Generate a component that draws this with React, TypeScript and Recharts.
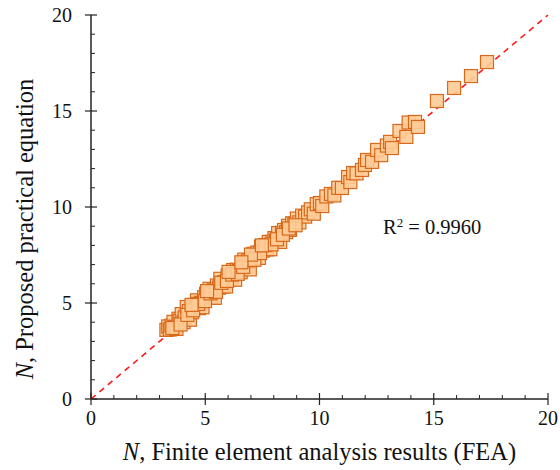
import { ScatterChart, Scatter, XAxis, YAxis } from "recharts";

// FEA results (x) and proposed equation (y)
const FEA = [
  3.3, 3.38, 3.45, 3.52, 3.61, 3.66, 3.74, 3.83, 3.88, 3.97, 4.05, 4.1, 4.19, 4.28, 4.33, 4.42, 4.5,
  4.58, 4.64, 4.73, 4.81, 4.88, 4.95, 5.04, 5.12, 5.19, 5.27, 5.36, 5.42, 5.51, 5.6, 5.66, 5.75,
  5.83, 5.91, 5.98, 6.07, 6.15, 6.22, 6.31, 6.38, 6.47, 6.55, 6.62, 6.71, 6.8, 6.86, 6.95, 7.04,
  7.11, 7.2, 7.28, 7.35, 7.44, 7.53, 7.6, 7.69, 7.78, 7.85, 7.94, 8.03, 8.1, 8.19, 8.28, 8.36, 8.45,
  8.54, 8.62, 8.71, 8.8, 8.9, 9.01, 9.12, 9.24, 9.37, 9.5,
  3.56, 3.92, 4.22, 4.47, 4.69, 4.99, 5.23, 5.47, 5.7, 5.95, 6.18, 6.42, 6.66, 6.9, 7.15, 7.4, 7.64,
  7.9, 8.14, 8.4, 8.66, 8.95, 5.08, 6.02, 7.0, 4.4, 6.58, 7.48,
  9.62, 9.75, 9.88, 10.02, 10.12, 10.3, 10.5, 10.65, 10.82, 10.98, 11.25, 11.35, 11.47, 11.62,
  11.86, 11.99, 12.08, 12.3, 12.52, 12.7, 12.95, 13.09, 13.17, 13.5, 13.8, 13.9, 14.18, 14.31,
  15.14, 15.89, 16.63, 17.33,
];
const PROPOSED = [
  3.6, 3.78, 3.62, 3.82, 4.02, 3.76, 3.65, 4.18, 4.08, 4.42, 4.0, 4.25, 4.79, 4.58, 4.13, 4.52, 4.9,
  4.83, 5.14, 4.73, 5.01, 4.78, 5.3, 5.49, 5.27, 5.74, 5.32, 5.66, 5.27, 5.91, 5.8, 6.26, 5.85,
  6.08, 5.86, 6.43, 6.37, 6.3, 6.72, 6.21, 6.73, 6.67, 6.6, 7.02, 7.26, 6.9, 7.16, 6.75, 7.29,
  7.56, 7.35, 7.63, 7.35, 7.94, 7.73, 7.9, 7.79, 8.18, 7.8, 8.19, 8.38, 8.25, 8.64, 8.18, 8.66, 8.8,
  8.69, 9.02, 8.81, 9.15, 9.12, 9.4, 9.2, 9.55, 9.5, 9.72,
  3.7, 3.88, 4.38, 4.62, 4.95, 5.1, 5.5, 5.58, 6.05, 6.15, 6.48, 6.52, 6.88, 7.22, 7.25, 7.6, 8.02,
  8.05, 8.32, 8.55, 8.88, 9.05, 5.62, 6.62, 7.52, 4.9, 7.12, 8.0,
  9.88, 9.65, 10.15, 10.21, 10.05, 10.55, 10.68, 10.6, 11.0, 10.99, 11.56, 11.3, 11.77, 11.75,
  11.93, 12.19, 12.45, 12.35, 12.97, 12.7, 13.2, 13.39, 13.07, 13.96, 13.65, 14.4, 14.43, 14.17,
  15.52, 16.2, 16.82, 17.55,
];
const TICKS = Array.from({ length: 21 }, (_, i) => i);
const MAJOR = [0, 5, 10, 15, 20];
const DIAG = [0, 20];

const points = FEA.map((x, i) => ({ x, y: PROPOSED[i] }));
const diagonal = DIAG.map((v) => ({ x: v, y: v }));

const FONT = "Liberation Serif, serif";
const AXIS = "#222";

function XTick(props: any) {
  const { x, y, payload } = props;
  const major = MAJOR.includes(payload.value);
  return (
    <g>
      {major ? (
        <line x1={x} x2={x} y1={y - 6} y2={y + 6} stroke={AXIS} strokeWidth={1.2} />
      ) : (
        <line x1={x} x2={x} y1={y} y2={y - 4} stroke={AXIS} strokeWidth={1} />
      )}
      {major && (
        <text x={x} y={y + 26} textAnchor="middle" fontFamily={FONT} fontSize={20} fill="#111">
          {payload.value}
        </text>
      )}
    </g>
  );
}

function YTick(props: any) {
  const { x, y, payload } = props;
  const major = MAJOR.includes(payload.value);
  return (
    <g>
      {major ? (
        <line x1={x - 6} x2={x + 6} y1={y} y2={y} stroke={AXIS} strokeWidth={1.2} />
      ) : (
        <line x1={x} x2={x + 4} y1={y} y2={y} stroke={AXIS} strokeWidth={1} />
      )}
      {major && (
        <text x={x - 19} y={y + 7} textAnchor="end" fontFamily={FONT} fontSize={20} fill="#111">
          {payload.value}
        </text>
      )}
    </g>
  );
}

function SquareMark(props: any) {
  const { cx, cy } = props;
  return (
    <rect
      x={cx - 6.5}
      y={cy - 6.5}
      width={13}
      height={13}
      fill="#FFCB96"
      fillOpacity={0.9}
      stroke="#D6691C"
      strokeWidth={1.2}
    />
  );
}

export default function App() {
  return (
    <div style={{ position: "absolute", left: 0, top: 0, width: 560, height: 470, background: "#fff" }}>
      <ScatterChart width={560} height={470} margin={{ top: 15, right: 12, left: 0, bottom: 0 }}>
        <XAxis
          type="number"
          dataKey="x"
          domain={[0, 20]}
          ticks={TICKS}
          interval={0}
          tickSize={0}
          tickMargin={0}
          tickLine={false}
          tick={<XTick />}
          axisLine={{ stroke: AXIS, strokeWidth: 1.5 }}
          height={71}
        />
        <YAxis
          type="number"
          dataKey="y"
          domain={[0, 20]}
          ticks={TICKS}
          interval={0}
          tickSize={0}
          tickMargin={0}
          tickLine={false}
          tick={<YTick />}
          axisLine={{ stroke: AXIS, strokeWidth: 1.5 }}
          width={91}
        />
        <XAxis
          xAxisId="top"
          orientation="top"
          type="number"
          domain={[0, 20]}
          tick={false}
          tickLine={false}
          axisLine={{ stroke: AXIS, strokeWidth: 1.5 }}
          height={0}
        />
        <YAxis
          yAxisId="right"
          orientation="right"
          type="number"
          domain={[0, 20]}
          tick={false}
          tickLine={false}
          axisLine={{ stroke: AXIS, strokeWidth: 1.5 }}
          width={0}
        />
        <Scatter
          data={diagonal}
          line={{ stroke: "#ff1a1a", strokeWidth: 1.6, strokeDasharray: "6 5" }}
          shape={() => <g />}
          isAnimationActive={false}
        />
        <Scatter data={points} shape={<SquareMark />} isAnimationActive={false} />
      </ScatterChart>
      <div
        style={{
          position: "absolute",
          left: 383,
          top: 217,
          fontFamily: FONT,
          fontSize: 20.5,
          lineHeight: 1,
          color: "#111",
          whiteSpace: "nowrap",
        }}
      >
        R<sup style={{ fontSize: 13, verticalAlign: "top", position: "relative", top: -1 }}>2</sup> = 0.9960
      </div>
      <div
        style={{
          position: "absolute",
          left: 0,
          width: 639,
          top: 440,
          textAlign: "center",
          fontFamily: FONT,
          fontSize: 24.5,
          lineHeight: 1,
          color: "#111",
          whiteSpace: "nowrap",
        }}
      >
        <i>N</i>, Finite element analysis results (FEA)
      </div>
      <div
        style={{
          position: "absolute",
          left: 25,
          top: 229,
          transform: "translate(-50%, -50%) rotate(-90deg)",
          fontFamily: FONT,
          fontSize: 24.5,
          lineHeight: 1,
          color: "#111",
          whiteSpace: "nowrap",
        }}
      >
        <i>N</i>, Proposed practical equation
      </div>
    </div>
  );
}
